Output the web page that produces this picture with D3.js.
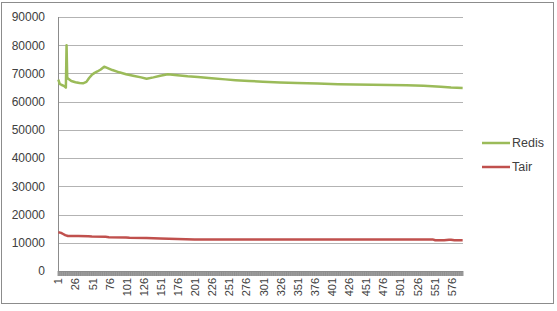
<!DOCTYPE html>
<html>
<head>
<meta charset="utf-8">
<script src="https://cdnjs.cloudflare.com/ajax/libs/d3/7.8.5/d3.min.js"></script>
<style>
body { margin:0; background:#fff; }
text { font-family: "Liberation Sans", Arial, sans-serif; fill:#404040; }
</style>
</head>
<body>
<div id="chart"></div>
<script>
// number of categories on the x axis (1..592)
var nCats = 592;
var xLabels = [1,26,51,76,101,126,151,176,201,226,251,276,301,326,351,376,401,426,451,476,501,526,551,576];
var yTicks = [0,10000,20000,30000,40000,50000,60000,70000,80000,90000];

// values at these category positions
var redisIdx = [1,3,6,9,12,13,14,16,20,26,32,37,42,46,50,54,58,63,68,74,80,90,100,112,122,130,140,150,161,175,190,205,225,245,260,280,300,325,350,380,410,434,460,485,510,535,560,575,592];
var redisVal = [67800,66300,65900,65600,65000,80000,68500,68000,67300,66900,66600,66500,67000,68400,69500,70200,70700,71400,72400,71800,71200,70400,69700,69100,68600,68100,68600,69200,69700,69400,69000,68700,68300,67900,67600,67300,67100,66800,66600,66400,66200,66100,66000,65900,65800,65600,65300,65000,64800];

var tairIdx = [1,5,8,11,15,30,45,50,70,75,100,105,130,140,150,175,200,300,400,500,548,552,565,572,575,580,592];
var tairVal = [13700,13500,13100,12700,12400,12400,12300,12200,12100,12000,11900,11800,11700,11600,11500,11300,11200,11200,11200,11200,11200,10900,10900,11100,11100,10900,10900];

var series = [
  {name:"Redis", color:"#9bbb59", idx:redisIdx, val:redisVal},
  {name:"Tair", color:"#c0504d", idx:tairIdx, val:tairVal}
];

var W = 557, H = 311;
var margin = {t:17, l:58, b:40, r:94};

var svg = d3.select("#chart").append("svg")
    .attr("width", W).attr("height", H);

// outer border
svg.append("rect")
    .attr("x",1.5).attr("y",2.5)
    .attr("width",552).attr("height",301)
    .attr("fill","#fff").attr("stroke","#8c8c8c").attr("stroke-width",1);

var cats = d3.range(1, nCats+1);

var x = d3.scaleBand()
    .domain(cats)
    .range([margin.l, W - margin.r])
    .padding(0);

var y = d3.scaleLinear()
    .domain([0, 90000])
    .range([271, margin.t]);

// gridlines
svg.append("g").selectAll("line")
    .data(yTicks.slice(1))
    .enter().append("line")
    .attr("x1", margin.l).attr("x2", W - margin.r)
    .attr("y1", function(d){ return Math.round(y(d))+0.5; })
    .attr("y2", function(d){ return Math.round(y(d))+0.5; })
    .attr("stroke","#b3b3b3").attr("stroke-width",1);

// y axis labels
svg.append("g")
    .attr("transform","translate(" + margin.l + ",0)")
    .call(d3.axisLeft(y).tickValues(yTicks).tickFormat(d3.format("d")).tickSize(0).tickPadding(13))
    .call(function(g){ g.select(".domain").remove(); })
    .selectAll("text")
    .style("font-size","12px")
    .attr("fill","#404040");

// y axis line
svg.append("line")
    .attr("x1", margin.l+0.5).attr("x2", margin.l+0.5)
    .attr("y1", margin.t).attr("y2", 271)
    .attr("stroke","#8c8c8c");

// x tick marks (one per category, at boundaries)
svg.append("g").selectAll("line")
    .data(cats.concat([nCats+1]))
    .enter().append("line")
    .attr("x1", function(d){ return d <= nCats ? x(d) : W - margin.r; })
    .attr("x2", function(d){ return d <= nCats ? x(d) : W - margin.r; })
    .attr("y1", 271).attr("y2", 276)
    .attr("stroke","#808080").attr("stroke-width",0.8);

// x axis line
svg.append("line")
    .attr("x1", margin.l).attr("x2", W - margin.r)
    .attr("y1", 271.5).attr("y2", 271.5)
    .attr("stroke","#8c8c8c");

// x labels
var xa = svg.append("g")
    .attr("transform","translate(0,271)")
    .call(d3.axisBottom(x).tickValues(xLabels).tickSize(0));
xa.select(".domain").remove();
xa.selectAll("text")
    .style("font-size","11px")
    .attr("fill","#404040")
    .attr("transform","rotate(-90)")
    .attr("text-anchor","end")
    .attr("x",-7)
    .attr("y",0)
    .attr("dy","0.35em");

var line = d3.line()
    .x(function(d){ return x(d[0]) + x.bandwidth()/2; })
    .y(function(d){ return y(d[1]); });

series.forEach(function(s){
    var pts = s.idx.map(function(v,i){ return [v, s.val[i]]; });
    svg.append("path")
        .attr("d", line(pts))
        .attr("fill","none")
        .attr("stroke", s.color)
        .attr("stroke-width", 2.5)
        .attr("stroke-linejoin","round");
});

// legend
var legend = svg.append("g");
series.forEach(function(s,i){
    var ly = 143 + i*24;
    legend.append("line")
        .attr("x1",482).attr("x2",510)
        .attr("y1",ly).attr("y2",ly)
        .attr("stroke",s.color).attr("stroke-width",2.5);
    legend.append("text")
        .attr("x",512).attr("y",ly)
        .attr("dy","0.35em")
        .style("font-size","12.5px")
        .text(s.name);
});
</script>
</body>
</html>
